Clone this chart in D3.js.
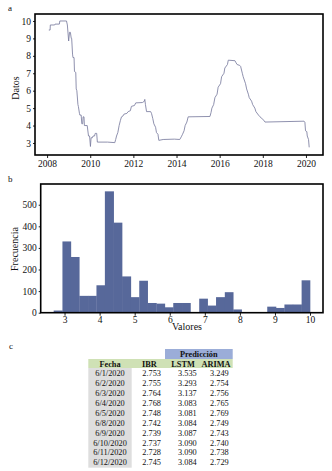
<!DOCTYPE html>
<meta charset="utf-8">
<style>
body { margin: 0; background: white; }
text { font-family: "Liberation Serif", "Times New Roman", serif; fill: #111; }
.frame { fill: none; stroke: black; stroke-width: 1.6px; }
.ibr-line { fill: none; stroke: #7b7d9f; stroke-width: 0.85px; }
.bar { fill: #57689a; }
.axis path { display: none; }
.axis line { stroke: #222; }
.axis text { font-size: 9.5px; }
.tbl { font-size: 8.3px; }
.tbl-head { font-size: 8.3px; font-weight: bold; }
</style>
<body>
<script src="https://d3js.org/d3.v7.min.js"></script>
<script>

// panel a: IBR series (decimal year, value)
var ibrYears = [2008.08, 2008.14, 2008.15, 2008.35, 2008.37, 2008.57, 2008.59, 2008.90, 2008.94, 2009.00, 2009.04, 2009.08,
    2009.12, 2009.14, 2009.18, 2009.20, 2009.25, 2009.27, 2009.33, 2009.35, 2009.38, 2009.43, 2009.45, 2009.50, 2009.52,
    2009.58, 2009.61, 2009.65, 2009.67, 2009.71, 2009.73, 2009.86, 2009.92, 2009.97, 2010.01, 2010.04, 2010.10, 2010.13,
    2010.20, 2010.23, 2010.30, 2010.33, 2010.80, 2011.14, 2011.18, 2011.22, 2011.28, 2011.34, 2011.40, 2011.45, 2011.52,
    2011.56, 2011.70, 2011.76, 2011.86, 2011.91, 2012.05, 2012.11, 2012.42, 2012.45, 2012.50, 2012.53, 2012.56, 2012.61,
    2012.80, 2012.84, 2012.90, 2012.95, 2013.03, 2013.07, 2013.14, 2013.18, 2013.38, 2013.90, 2014.15, 2014.22, 2014.28,
    2014.35, 2014.40, 2014.48, 2014.54, 2015.55, 2015.60, 2015.64, 2015.72, 2015.78, 2015.88, 2015.93, 2016.04, 2016.09,
    2016.20, 2016.24, 2016.36, 2016.40, 2016.71, 2016.76, 2016.81, 2016.93, 2016.97, 2017.05, 2017.09, 2017.20, 2017.25,
    2017.33, 2017.37, 2017.48, 2017.53, 2017.63, 2017.68, 2017.80, 2017.87, 2018.05, 2018.10, 2019.91, 2019.95, 2019.98,
    2020.04, 2020.06, 2020.12, 2020.15];
var ibrValues = [9.48, 9.48, 9.77, 9.77, 9.82, 9.82, 10.0, 10.0, 9.77, 8.85, 9.35, 9.35,
    9.0, 9.0, 8.1, 7.9, 7.9, 7.1, 7.05, 6.1, 6.0, 5.2, 5.1, 4.7, 4.6,
    4.6, 4.1, 4.1, 4.5, 4.5, 4.0, 4.0, 3.4, 3.4, 2.8, 3.3, 3.3, 3.4,
    3.4, 3.55, 3.55, 3.05, 3.05, 3.02, 3.2, 3.4, 3.6, 4.0, 4.3, 4.5, 4.55,
    4.65, 4.7, 4.8, 4.85, 5.1, 5.15, 5.3, 5.32, 5.35, 5.38, 5.5, 5.2, 4.8,
    4.8, 4.7, 4.4, 4.1, 3.9, 3.6, 3.5, 3.15, 3.2, 3.22, 3.2, 3.35, 3.5,
    3.7, 4.0, 4.2, 4.5, 4.52, 4.75, 5.0, 5.2, 5.6, 5.8, 6.2, 6.4, 6.8,
    7.0, 7.3, 7.5, 7.75, 7.72, 7.6, 7.5, 7.45, 7.4, 7.0, 6.8, 6.4, 6.1,
    5.8, 5.6, 5.4, 5.2, 5.0, 4.8, 4.6, 4.5, 4.3, 4.2, 4.25, 4.2, 3.7,
    3.65, 3.4, 3.2, 2.75];
var yearTicks = [2008, 2010, 2012, 2014, 2016, 2018, 2020];
var datosTicks = [3, 4, 5, 6, 7, 8, 9, 10];

// panel b: histogram
var binEdges = [2.69, 2.94, 3.18, 3.42, 3.67, 3.91, 4.15, 4.40, 4.64, 4.89, 5.13, 5.37, 5.62, 5.86, 6.10, 6.35,
    6.59, 6.84, 7.08, 7.32, 7.57, 7.81, 8.05, 8.30, 8.54, 8.78, 9.03, 9.27, 9.51, 9.76, 10.0];
var binCounts = [10, 330, 258, 78, 78, 127, 562, 417, 168, 72, 148, 45, 42, 25, 45, 45,
    0, 65, 33, 72, 95, 15, 0, 0, 2, 28, 22, 38, 38, 150];
var valorTicks = [3, 4, 5, 6, 7, 8, 9, 10];
var freqTicks = [0, 100, 200, 300, 400, 500];

// panel c: table
var fechas = ["6/1/2020", "6/2/2020", "6/3/2020", "6/4/2020", "6/5/2020", "6/8/2020", "6/9/2020", "6/10/2020", "6/11/2020", "6/12/2020"];
var ibr = ["2.753", "2.755", "2.764", "2.768", "2.748", "2.742", "2.739", "2.737", "2.728", "2.745"];
var lstm = ["3.535", "3.293", "3.137", "3.083", "3.081", "3.084", "3.087", "3.090", "3.090", "3.084"];
var arima = ["3.249", "2.754", "2.756", "2.765", "2.769", "2.749", "2.743", "2.740", "2.738", "2.729"];

var svg = d3.select("body").append("svg")
    .attr("width", 332)
    .attr("height", 471);

// ---------- panel a ----------
var xa = d3.scaleLinear().domain([2007.44, 2020.79]).range([35, 323]);
var ya = d3.scaleLinear().domain([2.31, 10.4]).range([155, 14]);

svg.append("text").attr("x", 8).attr("y", 11).style("font-size", "9px").text("a");

var line = d3.line()
    .x(function(d, i) { return xa(ibrYears[i]); })
    .y(function(d) { return ya(d); });

svg.append("path")
    .datum(ibrValues)
    .attr("class", "ibr-line")
    .attr("d", line);

svg.append("g")
    .attr("class", "axis")
    .attr("transform", "translate(0,155)")
    .call(d3.axisBottom(xa).tickValues(yearTicks).tickFormat(d3.format("d")).tickSize(3).tickPadding(2));

svg.append("g")
    .attr("class", "axis")
    .attr("transform", "translate(35,0)")
    .call(d3.axisLeft(ya).tickValues(datosTicks).tickSize(2).tickPadding(2));

svg.append("rect").attr("class", "frame")
    .attr("x", 35).attr("y", 14).attr("width", 288).attr("height", 141);

svg.append("text")
    .attr("transform", "translate(19,88) rotate(-90)")
    .attr("text-anchor", "middle")
    .style("font-size", "10px")
    .text("Datos");

// ---------- panel b ----------
var xb = d3.scaleLinear().domain([2.32, 10.37]).range([40.7, 323]);
var yb = d3.scaleLinear().domain([0, 596]).range([312.7, 184]);

svg.append("text").attr("x", 8).attr("y", 182).style("font-size", "9px").text("b");

svg.append("g").selectAll("rect")
    .data(binCounts)
    .enter().append("rect")
    .attr("class", "bar")
    .attr("x", function(d, i) { return xb(binEdges[i]); })
    .attr("width", function(d, i) { return xb(binEdges[i + 1]) - xb(binEdges[i]) + 0.3; })
    .attr("y", function(d) { return yb(d); })
    .attr("height", function(d) { return yb(0) - yb(d); });

svg.append("g")
    .attr("class", "axis")
    .attr("transform", "translate(0,312.7)")
    .call(d3.axisBottom(xb).tickValues(valorTicks).tickSize(3).tickPadding(1));

svg.append("g")
    .attr("class", "axis")
    .attr("transform", "translate(40.7,0)")
    .call(d3.axisLeft(yb).tickValues(freqTicks).tickSize(2).tickPadding(2));

svg.append("rect").attr("class", "frame")
    .attr("x", 40.7).attr("y", 184).attr("width", 282.3).attr("height", 128.7);

svg.append("text")
    .attr("x", 187).attr("y", 330)
    .attr("text-anchor", "middle")
    .style("font-size", "10px")
    .text("Valores");

svg.append("text")
    .attr("transform", "translate(18,249) rotate(-90)")
    .attr("text-anchor", "middle")
    .style("font-size", "10px")
    .text("Frecuencia");

// ---------- panel c ----------
svg.append("text").attr("x", 9).attr("y", 349).style("font-size", "9px").text("c");

var rowY = d3.scaleLinear().domain([0, 9]).range([373.3, 462.3]);

svg.append("rect").attr("x", 165).attr("y", 349).attr("width", 67.7).attr("height", 10).attr("fill", "#9badd8");
svg.append("rect").attr("x", 88.3).attr("y", 359).attr("width", 144.4).attr("height", 9).attr("fill", "#cfe1b5");
svg.append("rect").attr("x", 88.3).attr("y", 368).attr("width", 43.4).attr("height", 99.7).attr("fill", "#dedede");

svg.append("text").attr("class", "tbl-head").attr("x", 198.8).attr("y", 357).attr("text-anchor", "middle").text("Predicción");

var heads = [
    {t: "Fecha", x: 110, a: "middle"},
    {t: "IBR", x: 149.5, a: "middle"},
    {t: "LSTM", x: 183, a: "middle"},
    {t: "ARIMA", x: 216, a: "middle"}
];
svg.append("g").selectAll("text")
    .data(heads)
    .enter().append("text")
    .attr("class", "tbl-head")
    .attr("x", function(d) { return d.x; })
    .attr("y", 366.5)
    .attr("text-anchor", function(d) { return d.a; })
    .text(function(d) { return d.t; });

var cols = [
    {vals: fechas, x: 110, a: "middle"},
    {vals: ibr, x: 142.3, a: "start"},
    {vals: lstm, x: 196.7, a: "end"},
    {vals: arima, x: 228.7, a: "end"}
];
cols.forEach(function(c) {
    svg.append("g").selectAll("text")
        .data(c.vals)
        .enter().append("text")
        .attr("class", "tbl")
        .attr("x", c.x)
        .attr("y", function(d, i) { return rowY(i) + 3; })
        .attr("text-anchor", c.a)
        .text(function(d) { return d; });
});

</script>
</body>
